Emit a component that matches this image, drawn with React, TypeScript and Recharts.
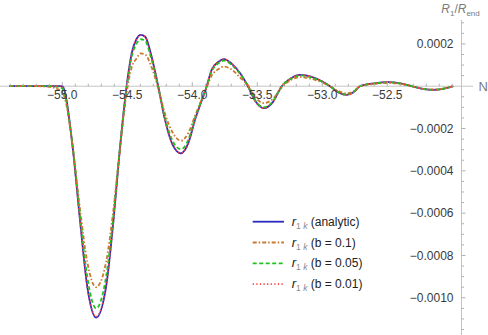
import React from 'react';
import { LineChart, Line, XAxis, YAxis, ReferenceLine, ReferenceDot } from 'recharts';

// ---- data ----
const nValues = [
  -55.41, -55.2, -55.1, -55.05, -55.0, -54.975, -54.946, -54.915, -54.864, -54.808,
  -54.74, -54.663, -54.606, -54.56, -54.505, -54.466, -54.43, -54.397, -54.362, -54.32,
  -54.262, -54.21, -54.15, -54.087, -54.03, -53.979, -53.889, -53.851, -53.8, -53.756,
  -53.7, -53.63, -53.572, -53.51, -53.452, -53.38, -53.312, -53.24, -53.172, -53.055,
  -52.941, -52.876, -52.812, -52.76, -52.71, -52.6, -52.492, -52.4, -52.312, -52.23,
  -52.146, -52.07, -51.992,
];
const analytic = [
  0, 0, 0, 0, 0, -0.00004, -0.000159, -0.000317, -0.000632, -0.000947,
  -0.001094, -0.000947, -0.000632, -0.000317, 0, 0.000156, 0.000222, 0.000243, 0.000234, 0.000156,
  0, -0.000159, -0.000278, -0.000317, -0.000268, -0.000159, 0, 0.000077, 0.000115, 0.000128,
  0.000108, 0.00006, 0, -0.000075, -0.000104, -0.000075, 0, 0.000038, 0.0000534, 0.000038,
  0, -0.000029, -0.0000411, -0.000029, 0, 0.0000135, 0.0000189, 0.0000135, 0, -0.0000125,
  -0.0000175, -0.0000125, 0,
];
const b01 = [
  0, 0, -0.000003, -0.00001, -0.00003, -0.00007, -0.00017, -0.00031, -0.00058, -0.00083,
  -0.00095, -0.00083, -0.00058, -0.00032, -0.00003, 0.00009, 0.00013, 0.000155, 0.00015, 0.0001,
  -0.00001, -0.00013, -0.00022, -0.000257, -0.00022, -0.00014, -0.000005, 0.00005, 0.00008, 0.000093,
  0.00008, 0.00004, 0.000005, -0.000055, -0.00008, -0.00006, -0.000005, 0.00003, 0.000043, 0.00003,
  0, -0.000023, -0.000034, -0.000025, 0, 0.000011, 0.000016, 0.000011, 0, -0.000011,
  -0.000015, -0.000011, 0,
];
const b005 = [
  0, 0, 0, -0.000002, -0.00001, -0.00005, -0.00016, -0.00031, -0.00061, -0.0009,
  -0.00105, -0.0009, -0.00061, -0.00031, -0.000005, 0.00014, 0.0002, 0.000222, 0.000215, 0.00014,
  -0.000005, -0.00015, -0.00026, -0.000298, -0.000252, -0.00015, 0, 0.00007, 0.000108, 0.000121,
  0.000102, 0.000056, 0, -0.000072, -0.0001, -0.000072, 0, 0.000036, 0.000051, 0.000036,
  0, -0.000028, -0.00004, -0.000028, 0, 0.000013, 0.0000185, 0.000013, 0, -0.000012,
  -0.000017, -0.000012, 0,
];
const b001 = [
  0, 0, 0, 0, -0.000001, -0.00004, -0.000159, -0.000317, -0.000632, -0.000945,
  -0.00109, -0.000945, -0.000632, -0.000317, 0, 0.000156, 0.000222, 0.000242, 0.000233, 0.000156,
  0, -0.000159, -0.000278, -0.000316, -0.000268, -0.000159, 0, 0.000077, 0.000115, 0.000128,
  0.000108, 0.00006, 0, -0.000075, -0.000104, -0.000075, 0, 0.000038, 0.0000533, 0.000038,
  0, -0.000029, -0.000041, -0.000029, 0, 0.0000135, 0.0000189, 0.0000135, 0, -0.0000125,
  -0.0000175, -0.0000125, 0,
];

const seriesKeys = ['analytic', 'b01', 'b005', 'b001'];
const seriesLabels = ['(analytic)', '(b = 0.1)', '(b = 0.05)', '(b = 0.01)'];

const xMajorTicks = [-55.0, -54.5, -54.0, -53.5, -53.0, -52.5];
const xMajorLabels = ['\u221255.0', '\u221254.5', '\u221254.0', '\u221253.5', '\u221253.0', '\u221252.5'];
const xMinorTicks = [
  -55.4, -55.3, -55.2, -55.1, -54.9, -54.8, -54.7, -54.6, -54.4, -54.3, -54.2, -54.1,
  -53.9, -53.8, -53.7, -53.6, -53.4, -53.3, -53.2, -53.1, -52.9, -52.8, -52.7, -52.6,
  -52.4, -52.3, -52.2, -52.1, -52.0,
];
const yMajorTicks = [0.0002, -0.0002, -0.0004, -0.0006, -0.0008, -0.001];
const yMajorLabels = ['0.0002', '\u22120.0002', '\u22120.0004', '\u22120.0006', '\u22120.0008', '\u22120.0010'];
const yMinorTicks = [
  0.0003, 0.00025, 0.00015, 0.0001, 0.00005, -0.00005, -0.0001, -0.00015, -0.00025, -0.0003,
  -0.00035, -0.00045, -0.0005, -0.00055, -0.00065, -0.0007, -0.00075, -0.00085, -0.0009,
  -0.00095, -0.00105, -0.0011, -0.00115,
];

const X_MIN = -55.41;
const X_MAX = -51.929;
const Y_MIN = -0.001176;
const Y_MAX = 0.000313;

// ---- styles ----
const FONT = "'Liberation Sans', Arial, sans-serif";
const AXIS_COLOR = '#c4c4c4';
const TICK_COLOR = '#b0b0b0';
const LABEL_COLOR = '#3a3a3a';
const seriesStyles = [
  { stroke: '#2a2abf', dash: undefined as string | undefined, width: 1.8 },
  { stroke: '#c87a30', dash: '4 2 1.5 2', width: 1.8 },
  { stroke: '#1fc41f', dash: '4 2.5', width: 1.8 },
  { stroke: '#ff3b3b', dash: '1.2 2.4', width: 1.8 },
];

const data = nValues.map((n, i) => ({
  N: n,
  analytic: analytic[i],
  b01: b01[i],
  b005: b005[i],
  b001: b001[i],
}));

const xTickShape = (label: string | null) => (props: any) => {
  const { cx, cy } = props;
  return (
    <g>
      <line x1={cx} x2={cx} y1={cy} y2={cy - (label ? 4 : 2.5)} stroke={TICK_COLOR} strokeWidth={1} />
      {label ? (
        <text x={cx} y={cy + 13} textAnchor="middle" fontFamily={FONT} fontSize={12} fill={LABEL_COLOR}>
          {label}
        </text>
      ) : null}
    </g>
  );
};

const yTickShape = (label: string | null) => (props: any) => {
  const { cx, cy } = props;
  return (
    <g>
      <line x1={cx} x2={cx + (label ? 4 : 2.5)} y1={cy} y2={cy} stroke={TICK_COLOR} strokeWidth={1} />
      {label ? (
        <text x={cx - 8} y={cy + 4.2} textAnchor="end" fontFamily={FONT} fontSize={12} fill={LABEL_COLOR}>
          {label}
        </text>
      ) : null}
    </g>
  );
};

const nLabelShape = (props: any) => {
  const { cx, cy } = props;
  return (
    <text x={cx + 17} y={cy + 5} textAnchor="start" fontFamily={FONT} fontSize={13} fill="#7a7a7a">
      N
    </text>
  );
};

const yTitleShape = (props: any) => {
  const { cx, cy } = props;
  return (
    <text x={cx - 1} y={cy - 7} textAnchor="middle" fontFamily={FONT} fontSize={12} fill="#7a7a7a">
      <tspan fontStyle="italic">R</tspan>
      <tspan fontSize={8} dy={3}>1</tspan>
      <tspan dy={-3}>/</tspan>
      <tspan fontStyle="italic">R</tspan>
      <tspan fontSize={8} dy={3}>end</tspan>
    </text>
  );
};

const LegendBox = () => (
  <svg
    width={170}
    height={90}
    style={{ position: 'absolute', left: 240, top: 210, overflow: 'visible' }}
  >
    {seriesLabels.map((lab, i) => {
      const y = 11.7 + i * 20.8;
      const st = seriesStyles[i];
      return (
        <g key={lab}>
          <line x1={12.7} x2={44} y1={y} y2={y} stroke={st.stroke} strokeWidth={st.width} strokeDasharray={st.dash} />
          <text x={51.7} y={y + 4} fontFamily={FONT} fontSize={12} fill="#222">
            <tspan fontStyle="italic" fontSize={13}>r</tspan>
            <tspan fontSize={8.5} dy={3} fill="#8a8a8a">1 </tspan>
            <tspan fontSize={8.5} fontStyle="italic" fill="#8a8a8a">k</tspan>
            <tspan dy={-3}>{'  ' + lab}</tspan>
          </text>
        </g>
      );
    })}
  </svg>
);

export default function App() {
  return (
    <div style={{ position: 'absolute', left: 0, top: 0, width: 488, height: 335, background: '#fff' }}>
      <LineChart width={488} height={335} data={data} margin={{ top: 20, right: 26.5, bottom: 0, left: 9 }}>
        <XAxis dataKey="N" type="number" domain={[X_MIN, X_MAX]} allowDataOverflow hide />
        <YAxis type="number" domain={[Y_MIN, Y_MAX]} allowDataOverflow hide />
        <ReferenceLine
          segment={[{ x: -55.48, y: 0 }, { x: -51.84, y: 0 }]}
          stroke={AXIS_COLOR}
          strokeWidth={1}
          ifOverflow="visible"
        />
        <ReferenceLine x={X_MAX} stroke={AXIS_COLOR} strokeWidth={1} ifOverflow="visible" />
        {xMinorTicks.map((t) => (
          <ReferenceDot key={'xm' + t} x={t} y={0} r={0} ifOverflow="visible" shape={xTickShape(null)} />
        ))}
        {xMajorTicks.map((t, i) => (
          <ReferenceDot key={'xM' + t} x={t} y={0} r={0} ifOverflow="visible" shape={xTickShape(xMajorLabels[i])} />
        ))}
        {yMinorTicks.map((t) => (
          <ReferenceDot key={'ym' + t} x={X_MAX} y={t} r={0} ifOverflow="visible" shape={yTickShape(null)} />
        ))}
        {yMajorTicks.map((t, i) => (
          <ReferenceDot key={'yM' + t} x={X_MAX} y={t} r={0} ifOverflow="visible" shape={yTickShape(yMajorLabels[i])} />
        ))}
        <ReferenceDot x={X_MAX} y={0} r={0} ifOverflow="visible" shape={nLabelShape} />
        <ReferenceDot x={X_MAX} y={Y_MAX} r={0} ifOverflow="visible" shape={yTitleShape} />
        {seriesKeys.map((k, i) => (
          <Line
            key={k}
            type="monotone"
            dataKey={k}
            stroke={seriesStyles[i].stroke}
            strokeWidth={seriesStyles[i].width}
            strokeDasharray={seriesStyles[i].dash}
            dot={false}
            activeDot={false}
            isAnimationActive={false}
          />
        ))}
      </LineChart>
      <LegendBox />
    </div>
  );
}
